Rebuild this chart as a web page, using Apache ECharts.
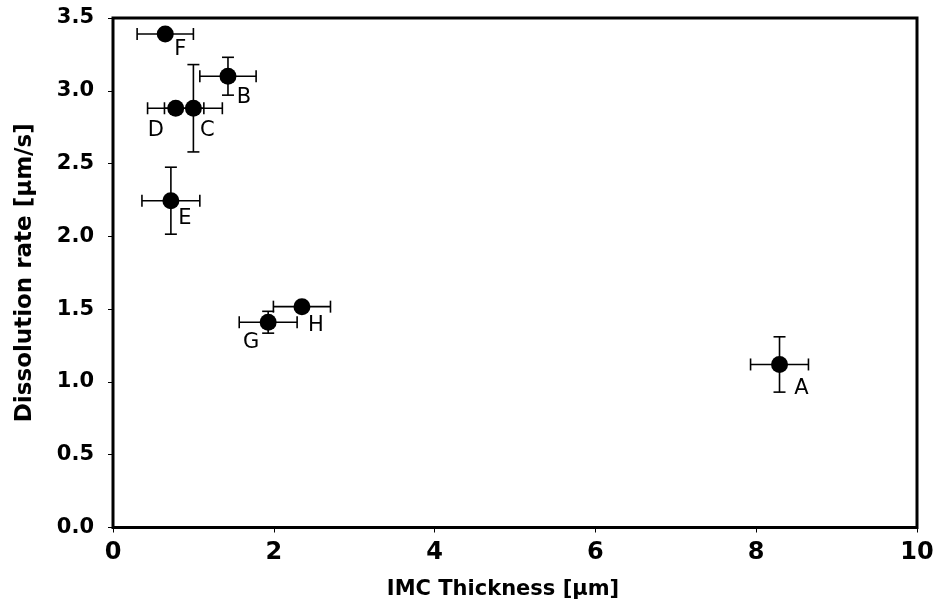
<!DOCTYPE html>
<html>
<head>
<meta charset="utf-8">
<script src="https://cdn.jsdelivr.net/npm/echarts@6/dist/echarts.min.js"></script>
<style>
  html, body { margin: 0; padding: 0; background: #fff; }
  #main { width: 938px; height: 603px; }
</style>
</head>
<body>
<div id="main"></div>
<script>
// samples
var names = ['A', 'B', 'C', 'D', 'E', 'F', 'G', 'H'];
var thickness = [8.29, 1.43, 1.00, 0.78, 0.72, 0.65, 1.93, 2.35];
var rate = [1.12, 3.10, 2.88, 2.88, 2.245, 3.39, 1.41, 1.517];
var thicknessErr = [0.36, 0.35, 0.36, 0.35, 0.36, 0.35, 0.36, 0.355];
var rateErr = [0.19, 0.13, 0.30, 0, 0.23, 0, 0.075, 0];

var xTicks = [0, 2, 4, 6, 8, 10];
var yTicks = [0, 0.5, 1.0, 1.5, 2.0, 2.5, 3.0, 3.5];

// label placement (px), styling only
var labelOffset = {
  A: [22, 24], B: [16, 21], C: [14, 22], D: [-20, 22],
  E: [14, 18], F: [15, 16], G: [-17, 20], H: [14, 19]
};

var pts = [];
var errs = [];
for (var i = 0; i < names.length; i++) {
  pts.push({
    value: [thickness[i], rate[i]],
    name: names[i],
    label: { offset: labelOffset[names[i]] }
  });
  errs.push([thickness[i], rate[i], thicknessErr[i], rateErr[i]]);
}

function renderErr(params, api) {
  var x = api.value(0), y = api.value(1), ex = api.value(2), ey = api.value(3);
  var cap = 6;
  var style = { stroke: '#000', lineWidth: 1.6 };
  var kids = [];
  if (ex > 0) {
    var l = api.coord([x - ex, y]), r = api.coord([x + ex, y]);
    kids.push({ type: 'line', shape: { x1: l[0], y1: l[1], x2: r[0], y2: r[1] }, style: style });
    kids.push({ type: 'line', shape: { x1: l[0], y1: l[1] - cap, x2: l[0], y2: l[1] + cap }, style: style });
    kids.push({ type: 'line', shape: { x1: r[0], y1: r[1] - cap, x2: r[0], y2: r[1] + cap }, style: style });
  }
  if (ey > 0) {
    var t = api.coord([x, y + ey]), b = api.coord([x, y - ey]);
    kids.push({ type: 'line', shape: { x1: t[0], y1: t[1], x2: b[0], y2: b[1] }, style: style });
    kids.push({ type: 'line', shape: { x1: t[0] - cap, y1: t[1], x2: t[0] + cap, y2: t[1] }, style: style });
    kids.push({ type: 'line', shape: { x1: b[0] - cap, y1: b[1], x2: b[0] + cap, y2: b[1] }, style: style });
  }
  return { type: 'group', children: kids };
}

var chart = echarts.init(document.getElementById('main'), null, { renderer: 'canvas' });
chart.setOption({
  backgroundColor: '#fff',
  animation: false,
  grid: {
    left: 113, top: 18, right: 21, bottom: 75.5,
    outerBoundsMode: 'none',
    containLabel: false,
    show: true, borderColor: '#000', borderWidth: 3, backgroundColor: 'transparent'
  },
  xAxis: {
    type: 'value',
    min: xTicks[0], max: xTicks[xTicks.length - 1], interval: 2,
    name: 'IMC Thickness [µm]',
    nameLocation: 'middle', nameGap: 52,
    nameTextStyle: {
      fontFamily: 'DejaVu Sans', fontWeight: 'bold', fontSize: 21, color: '#000',
      padding: [0, 24, 0, 0]
    },
    axisLine: { show: false },
    axisTick: { show: true, length: 5, inside: false, lineStyle: { color: '#000', width: 1 } },
    axisLabel: { fontFamily: 'DejaVu Sans', fontWeight: 'bold', fontSize: 24, color: '#000', margin: 13 },
    splitLine: { show: false }
  },
  yAxis: {
    type: 'value',
    min: yTicks[0], max: yTicks[yTicks.length - 1], interval: 0.5,
    name: 'Dissolution rate [µm/s]',
    nameLocation: 'middle', nameGap: 76, nameRotate: 90,
    nameTextStyle: { fontFamily: 'DejaVu Sans', fontWeight: 'bold', fontSize: 23, color: '#000' },
    axisLine: { show: false },
    axisTick: { show: true, length: 5, inside: false, lineStyle: { color: '#000', width: 1 } },
    axisLabel: {
      fontFamily: 'DejaVu Sans', fontWeight: 'bold', fontSize: 21, color: '#000', margin: 19,
      formatter: function (v) { return v.toFixed(1); }
    },
    splitLine: { show: false }
  },
  series: [
    {
      type: 'custom',
      renderItem: renderErr,
      data: errs,
      z: 2,
      silent: true
    },
    {
      type: 'scatter',
      data: pts,
      symbol: 'circle',
      symbolSize: 17,
      itemStyle: { color: '#000', opacity: 1 },
      z: 3,
      label: {
        show: true,
        position: 'inside',
        formatter: '{b}',
        fontFamily: 'DejaVu Sans',
        fontSize: 21,
        color: '#000'
      }
    }
  ]
});
</script>
</body>
</html>
